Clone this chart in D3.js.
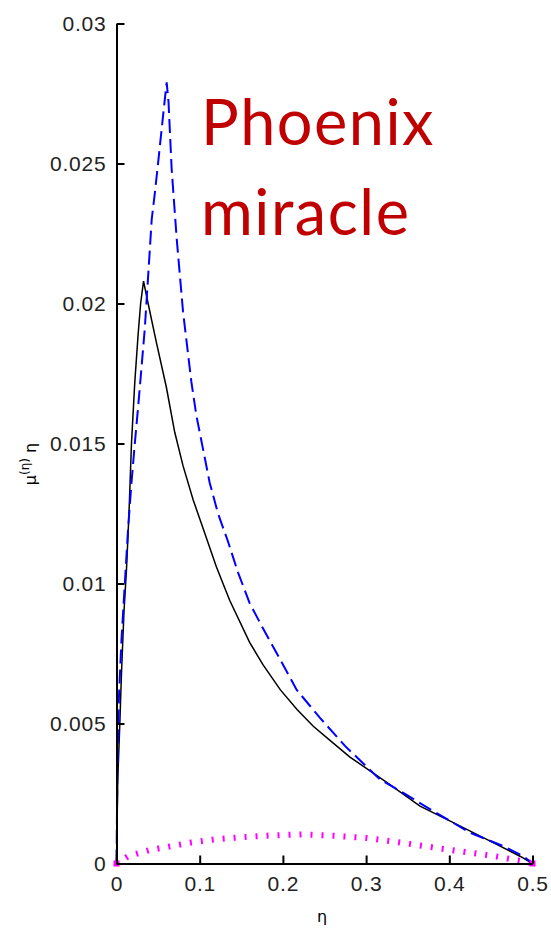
<!DOCTYPE html>
<html>
<head>
<meta charset="utf-8">
<script src="https://cdn.jsdelivr.net/npm/d3@7"></script>
<style>
  body { margin: 0; background: #fff; }
  svg { display: block; }
</style>
</head>
<body>
<svg width="551" height="931"></svg>
<script>
var svg = d3.select("svg"),
    width = +svg.attr("width"),
    height = +svg.attr("height");

// tick values
var xTicks = [0, 0.1, 0.2, 0.3, 0.4, 0.5];
var yTicks = [0, 0.005, 0.01, 0.015, 0.02, 0.025, 0.03];
var yTickLabels = ["0", "0.005", "0.01", "0.015", "0.02", "0.025", "0.03"];

// black solid curve [eta, value]
var blackLine = [
    [0, 0], [0.0015, 0.003], [0.004, 0.005], [0.006, 0.0068], [0.009, 0.009],
    [0.012, 0.0105], [0.015, 0.0125], [0.018, 0.015], [0.022, 0.0172], [0.026, 0.0189],
    [0.029, 0.0200], [0.0325, 0.0208], [0.038, 0.0200], [0.048, 0.0186], [0.060, 0.0170],
    [0.070, 0.0154], [0.080, 0.0142], [0.092, 0.0130], [0.106, 0.0118], [0.120, 0.0106],
    [0.136, 0.0094], [0.160, 0.0079], [0.176, 0.0071], [0.197, 0.0062], [0.217, 0.0055],
    [0.2365, 0.0049], [0.2566, 0.0044], [0.2806, 0.0038], [0.3248, 0.0029], [0.3648, 0.00205],
    [0.4048, 0.00146], [0.445, 0.00086], [0.485, 0.00026], [0.5, 0]
];

// blue dashed curve
var blueLine = [
    [0, 0], [0.001, 0.003], [0.003, 0.006], [0.006, 0.008], [0.010, 0.010],
    [0.014, 0.012], [0.018, 0.0136], [0.022, 0.015], [0.026, 0.0163], [0.030, 0.0177],
    [0.034, 0.0191], [0.037, 0.0205], [0.040, 0.0219], [0.0423, 0.0230], [0.0463, 0.0240],
    [0.0503, 0.0251], [0.0563, 0.0268], [0.0603, 0.0279], [0.0625, 0.0272], [0.0663, 0.0248],
    [0.0724, 0.0223], [0.080, 0.0197], [0.090, 0.0172], [0.096, 0.0160], [0.104, 0.0148],
    [0.112, 0.0136], [0.122, 0.0125], [0.134, 0.0115], [0.146, 0.0104], [0.160, 0.0093],
    [0.176, 0.0084], [0.1965, 0.0073], [0.2166, 0.0062], [0.2446, 0.0052], [0.2746, 0.0042],
    [0.3167, 0.0030], [0.3447, 0.00252], [0.3848, 0.0018], [0.425, 0.0011], [0.465, 0.00062],
    [0.489, 0.00026], [0.5, 0]
];

// magenta dotted curve
var magentaLine = [
    [0, 0], [0.014, 0.00026], [0.04, 0.00048], [0.066, 0.00062], [0.09, 0.00075],
    [0.118, 0.00086], [0.15, 0.00094], [0.1845, 0.0010], [0.2226, 0.00104], [0.2606, 0.00099],
    [0.3007, 0.00091], [0.3387, 0.00076], [0.3768, 0.00059], [0.4168, 0.00042], [0.4549, 0.00026],
    [0.493, 0.00006], [0.5, 0]
];

var x = d3.scaleLinear()
    .domain([0, 0.5])
    .range([116.5, 532.5]);

var y = d3.scaleLinear()
    .domain([0, 0.03])
    .range([863.5, 23.5]);

var line = d3.line()
    .x(d => x(d[0]))
    .y(d => y(d[1]));

// curves
svg.append("path")
    .datum(magentaLine)
    .attr("d", line)
    .attr("fill", "none")
    .attr("stroke", "#ff00ff")
    .attr("stroke-width", 6)
    .attr("stroke-dasharray", "2,9");

svg.append("path")
    .datum(blackLine)
    .attr("d", line)
    .attr("fill", "none")
    .attr("stroke", "#000")
    .attr("stroke-width", 1.5);

svg.append("path")
    .datum(blueLine)
    .attr("d", line)
    .attr("fill", "none")
    .attr("stroke", "#0000ff")
    .attr("stroke-width", 2)
    .attr("stroke-dasharray", "14,6");

svg.selectAll(".end")
    .data([magentaLine[0], magentaLine[magentaLine.length - 1]])
    .enter().append("rect")
    .attr("class", "end")
    .attr("x", d => x(d[0]) - 3)
    .attr("y", d => y(d[1]) - 3)
    .attr("width", 6)
    .attr("height", 6)
    .attr("fill", "#ff00ff");

// axes
var xAxis = svg.append("g")
    .attr("transform", "translate(0," + y(0) + ")")
    .call(d3.axisBottom(x).tickValues(xTicks).tickSizeInner(-8).tickSizeOuter(0).tickPadding(12)
        .tickFormat(d3.format("")));

var yAxis = svg.append("g")
    .attr("transform", "translate(" + x(0) + ",0)")
    .call(d3.axisLeft(y).tickValues(yTicks).tickSizeInner(-8).tickSizeOuter(0).tickPadding(10)
        .tickFormat((d, i) => yTickLabels[i]));

svg.selectAll(".domain, .tick line")
    .attr("stroke", "#000")
    .attr("stroke-width", 2);

svg.selectAll(".tick text")
    .attr("fill", "#222")
    .style("font-family", "'Liberation Sans', Arial, sans-serif")
    .style("font-size", "21px")
    .style("letter-spacing", "0.8px");

xAxis.selectAll(".tick text").attr("dy", "0.72em");

// axis labels
svg.append("text")
    .attr("x", 322)
    .attr("y", 922)
    .attr("text-anchor", "middle")
    .style("font-family", "'DejaVu Sans', sans-serif")
    .style("font-size", "16px")
    .text("η");

var ylab = svg.append("text")
    .attr("transform", "translate(36,464) rotate(-90)")
    .attr("text-anchor", "middle")
    .style("font-family", "'DejaVu Sans', sans-serif")
    .style("font-size", "16px");
ylab.append("tspan").text("μ");
ylab.append("tspan").attr("dy", -7).style("font-size", "12px").text("(η)");
ylab.append("tspan").attr("dy", 7).text(" η");

// annotation
var note = svg.append("g")
    .style("font-family", "Lato, 'Open Sans', sans-serif")
    .style("font-size", "63px")
    .style("font-weight", 400)
    .style("letter-spacing", "1.5px")
    .attr("fill", "#c00000");

note.append("text").attr("x", 201).attr("y", 145).text("Phoenix");
note.append("text").attr("x", 201).attr("y", 235).text("miracle");
</script>
</body>
</html>
